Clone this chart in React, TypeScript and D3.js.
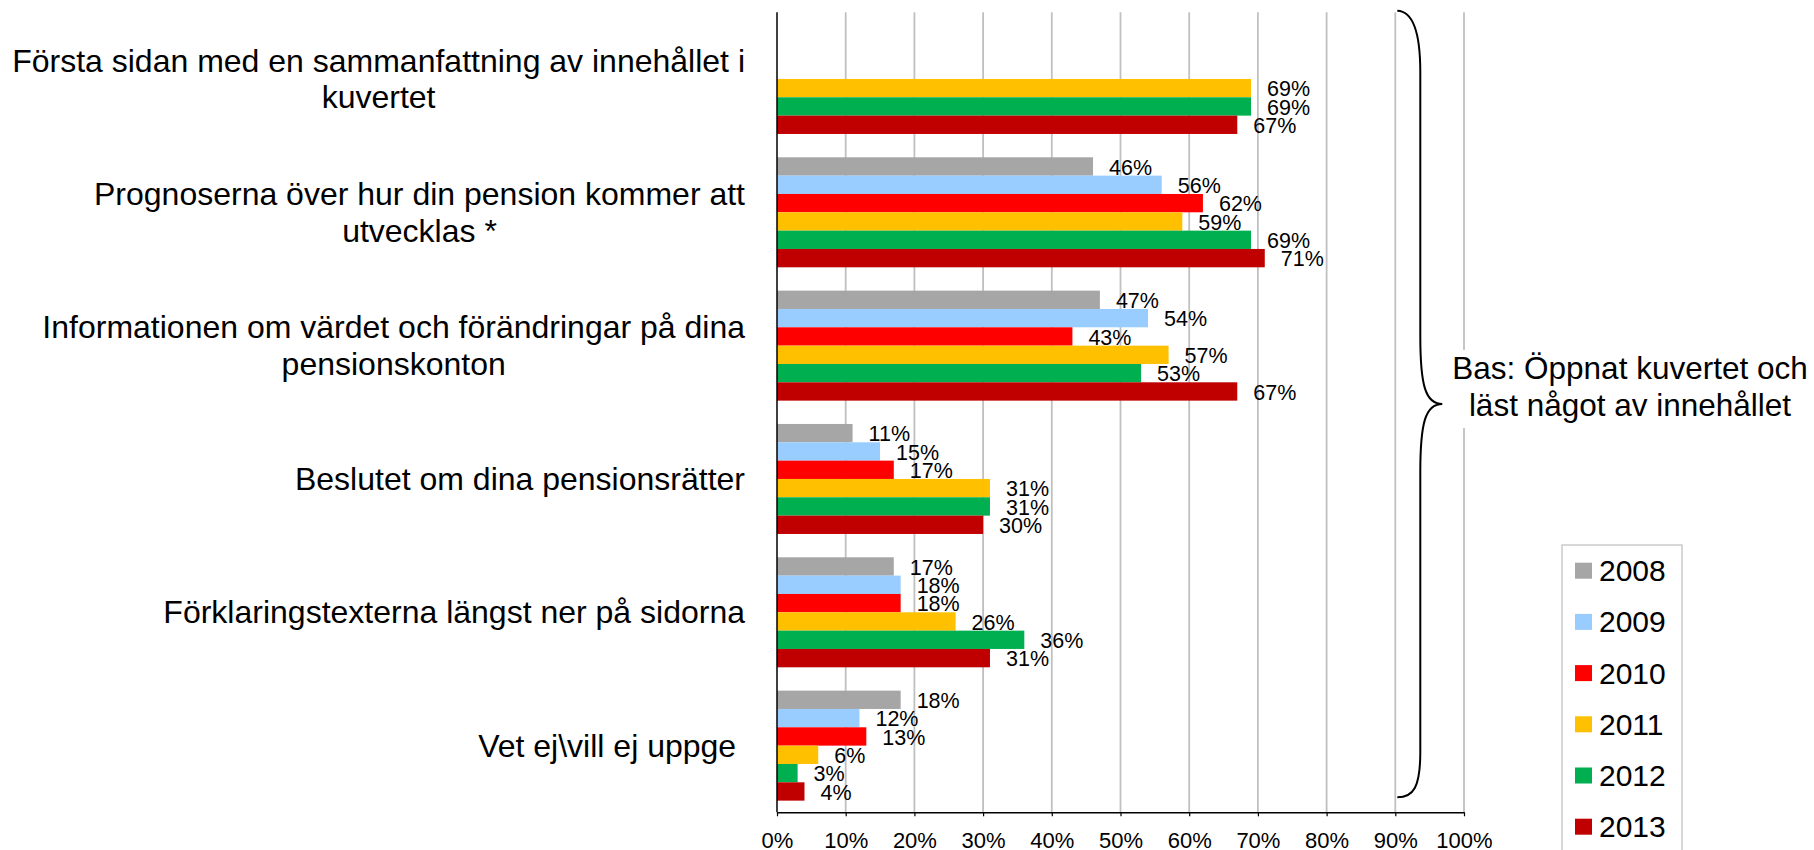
import React, { useEffect, useRef } from "react";
import * as d3 from "d3";

// kategorier (uppifrån och ned), "\n" = radbrytning
const categories = [
  "Första sidan med en sammanfattning av innehållet i\nkuvertet",
  "Prognoserna över hur din pension kommer att\nutvecklas *",
  "Informationen om värdet och förändringar på dina\npensionskonton",
  "Beslutet om dina pensionsrätter",
  "Förklaringstexterna längst ner på sidorna",
  "Vet ej\\vill ej uppge ",
];
const years = ["2008", "2009", "2010", "2011", "2012", "2013"];
const colors = ["#A6A6A6", "#99CCFF", "#FF0000", "#FFC000", "#00B050", "#C00000"];

// procent per år, null = ej frågat
const v2008 = [null, 46, 47, 11, 17, 18];
const v2009 = [null, 56, 54, 15, 18, 12];
const v2010 = [null, 62, 43, 17, 18, 13];
const v2011 = [69, 59, 57, 31, 26, 6];
const v2012 = [69, 69, 53, 31, 36, 3];
const v2013 = [67, 71, 67, 30, 31, 4];
const series = [v2008, v2009, v2010, v2011, v2012, v2013];

const xTickValues = [0, 10, 20, 30, 40, 50, 60, 70, 80, 90, 100];
const braceText = ["Bas: Öppnat kuvertet och", "läst något av innehållet"];

const W = 1814, H = 850;
const FONT = "'Liberation Sans', Arial, sans-serif";
const catFont = 32;
const labelRight = 745;

let ctx: CanvasRenderingContext2D | null = null;
function textWidth(s: string, size: number) {
  if (!ctx) ctx = document.createElement("canvas").getContext("2d");
  ctx!.font = `${size}px ${FONT}`;
  return ctx!.measureText(s).width;
}

export default function App() {
  const axisRef = useRef<SVGGElement>(null);

  const x = d3.scaleLinear().domain([0, 100]).range([777, 1464]);
  const y = d3.scaleBand().domain(categories).range([12.3, 812.3]).paddingInner(0.175).paddingOuter(0.0875);
  const yInner = d3.scaleBand().domain(years).range([0, y.bandwidth()]);

  useEffect(() => {
    document.body.style.margin = "0";
    const g = d3.select(axisRef.current!);
    g.selectAll("*").remove();
    g.call(
      d3.axisBottom(x).tickValues(xTickValues).tickSizeInner(4).tickSizeOuter(0).tickPadding(16).tickFormat((d) => d + "%")
    );
    g.select(".domain").attr("stroke", "#000").attr("stroke-width", 1.5);
    g.selectAll(".tick line").attr("stroke", "#000").attr("stroke-width", 1.2);
    g.selectAll(".tick text").attr("font-size", 22).attr("font-family", FONT).attr("fill", "#000");
  }, []);

  const [yTop, yBottom] = y.range();

  return (
    <svg width={W} height={H} style={{ position: "absolute", left: 0, top: 0, background: "#fff" }} fontFamily={FONT}>
      {/* stödlinjer */}
      {xTickValues.slice(1).map((t) => (
        <line key={t} x1={x(t)} x2={x(t)} y1={yTop} y2={yBottom} stroke="#C0C0C0" strokeWidth={1.8} />
      ))}

      {/* staplar */}
      {categories.map((c, ci) => (
        <g key={c} transform={`translate(0,${y(c)})`}>
          {years.map((yr, si) => {
            const v = series[si][ci];
            if (v == null) return null;
            return (
              <rect key={yr} x={x(0)} y={yInner(yr)} width={x(v) - x(0)} height={yInner.bandwidth()} fill={colors[si]} />
            );
          })}
        </g>
      ))}

      {/* värdeetiketter */}
      {categories.map((c, ci) => (
        <g key={c + "l"} transform={`translate(0,${y(c)})`}>
          {years.map((yr, si) => {
            const v = series[si][ci];
            if (v == null) return null;
            return (
              <text key={yr} x={x(v) + 16} y={yInner(yr)! + yInner.bandwidth() / 2 + 8.3} fontSize={21.5} fill="#000">
                {v}%
              </text>
            );
          })}
        </g>
      ))}

      {/* y-axel */}
      <line x1={x(0)} x2={x(0)} y1={yTop} y2={yBottom} stroke="#000" strokeWidth={1.5} />
      <g ref={axisRef} transform={`translate(0,${yBottom})`} />

      {/* kategorietiketter */}
      {categories.map((c) => {
        const lines = c.split("\n");
        const widths = lines.map((l) => textWidth(l, catFont));
        const blockW = Math.max(...widths);
        const cx = labelRight - blockW / 2;
        const cy = y(c)! + y.bandwidth() / 2;
        return lines.map((l, i) => (
          <text
            key={c + i}
            x={cx - widths[i] / 2}
            y={cy + 11 + (i - (lines.length - 1) / 2) * 36.6}
            fontSize={catFont}
            fill="#000"
            style={{ whiteSpace: "pre" }}
          >
            {l}
          </text>
        ));
      })}

      {/* klammer */}
      <path
        d={`M${x(90) + 2},${yTop - 1.5} C${x(90) + 18},${yTop - 1} ${x(90) + 25},${yTop + 20} ${x(90) + 25},${yTop + 60}
           L${x(90) + 25},336 C${x(90) + 25},385 ${x(90) + 30},404 ${x(90) + 47},404
           C${x(90) + 30},404 ${x(90) + 25},423 ${x(90) + 25},472
           L${x(90) + 25},${yBottom - 60} C${x(90) + 25},${yBottom - 25} ${x(90) + 18},${yBottom - 15} ${x(90) + 2},${yBottom - 15}`}
        fill="none"
        stroke="#000"
        strokeWidth={2}
      />
      <rect x={1447} y={350} width={365} height={78} fill="#fff" />
      {braceText.map((t, i) => (
        <text key={t} x={1630} y={379 + i * 37} textAnchor="middle" fontSize={31.5} fill="#000">
          {t}
        </text>
      ))}

      {/* förklaring */}
      <rect x={1562} y={545} width={120} height={320} fill="#fff" stroke="#BFBFBF" strokeWidth={1.2} />
      {years.map((yr, i) => (
        <g key={yr} transform={`translate(1575,${570.7 + i * 51.2})`}>
          <rect x={0} y={-8} width={17} height={16} fill={colors[i]} />
          <text x={24} y={0} dy="0.35em" fontSize={30} fill="#000">
            {yr}
          </text>
        </g>
      ))}
    </svg>
  );
}
